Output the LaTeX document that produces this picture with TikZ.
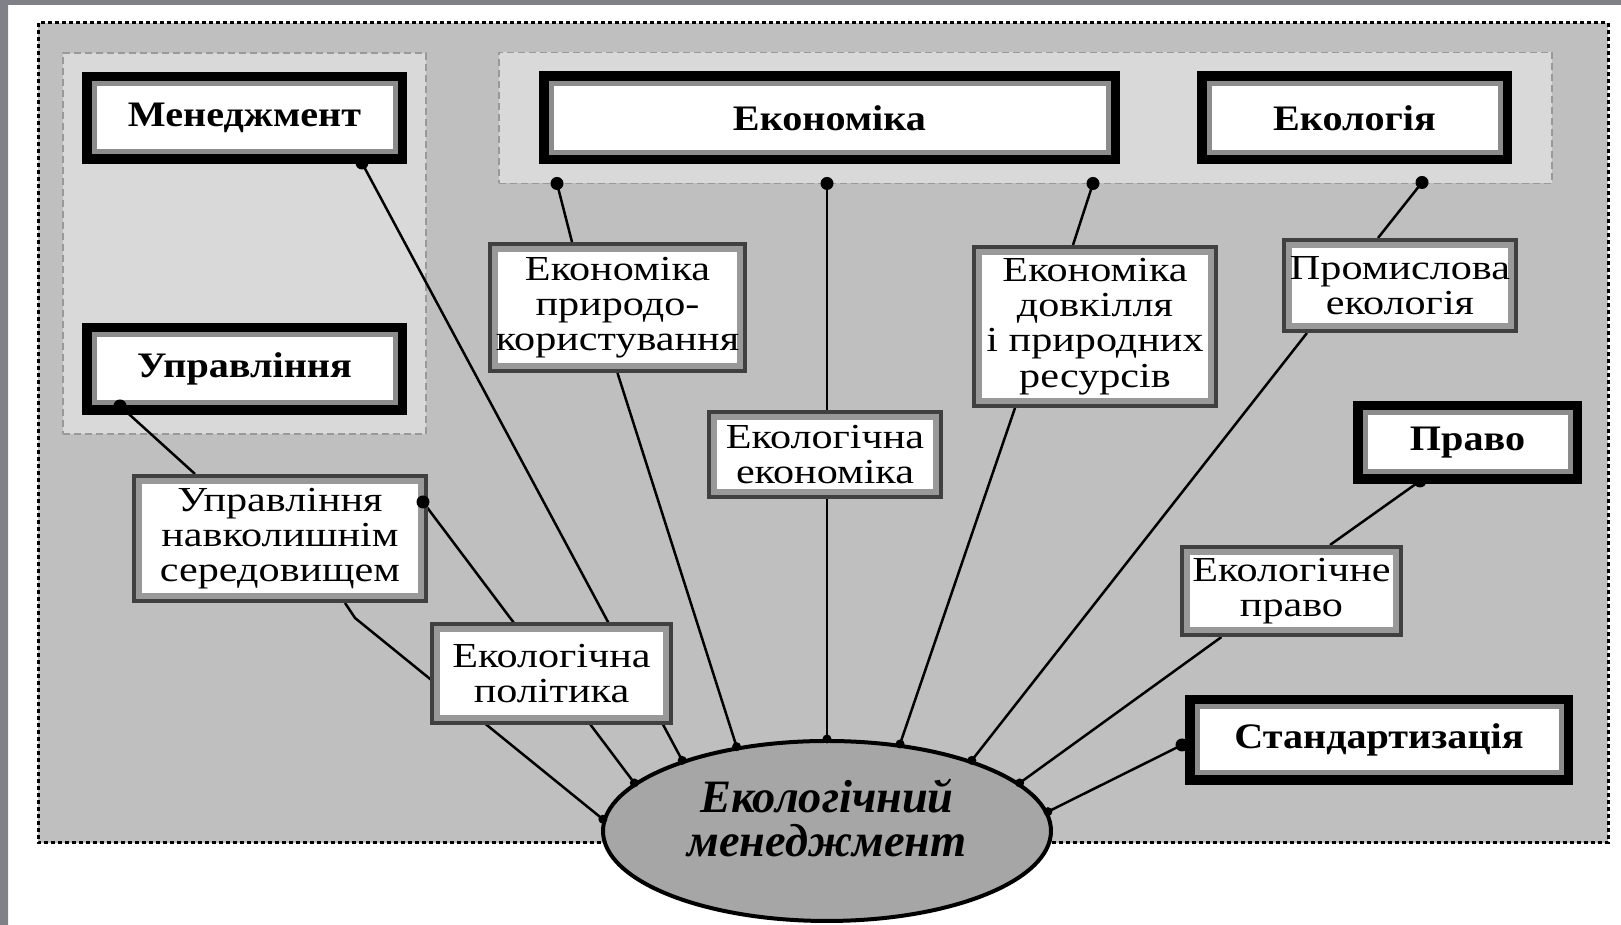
\documentclass[tikz,border=0pt]{standalone}
\usepackage{fontspec}
\setmainfont{Liberation Serif}
\newfontfamily\boxfont[FakeStretch=1.2]{Liberation Serif}
\newfontfamily\headfont[FakeStretch=1.12]{Liberation Serif}
\usepackage{tikz}
\usetikzlibrary{shapes.geometric,fit}
\pgfdeclarelayer{back}
\pgfdeclarelayer{lines}
\pgfsetlayers{back,lines,main}
\definecolor{edgegray}{RGB}{128,128,136}
\tikzset{
  mainbox/.style={preaction={draw=black,line width=0.24cm},draw=black!45,line width=0.05cm,fill=white,
    inner sep=0pt,outer sep=0.12cm,font=\headfont\bfseries\fontsize{10.2}{11}\selectfont},
  subbox/.style={preaction={draw=black!75,line width=0.14cm},draw=black!40,line width=0.06cm,fill=white,
    inner sep=0pt,outer sep=0.07cm,align=center,font=\boxfont\fontsize{10}{10}\selectfont},
  grp/.style={draw=black!40,fill=black!15,line width=0.015cm,dash pattern=on 0.07cm off 0.04cm},
  frame/.style={draw=black,fill=black!25,line width=0.03cm,dash pattern=on 0.04cm off 0.03cm},
  link/.style={line width=0.025cm},
  pin/.style={fill=black}
}
\begin{document}
\begin{tikzpicture}
        \useasboundingbox (0,0) rectangle (16.21,-9.25);
        \node[mainbox,minimum width=3.01cm,minimum height=0.68cm] (men) at (2.445,-1.18) {Менеджмент};
        \node[mainbox,minimum width=3.01cm,minimum height=0.68cm] (upr) at (2.445,-3.69) {Управління};
        \node[mainbox,minimum width=5.57cm,minimum height=0.69cm] (eko) at (8.295,-1.18) {Економіка};
        \node[mainbox,minimum width=2.91cm,minimum height=0.69cm] (ecl) at (13.545,-1.18) {Екологія};
        \node[mainbox,minimum width=2.05cm,minimum height=0.59cm] (prv) at (14.675,-4.425) {Право};
        \node[mainbox,minimum width=3.64cm,minimum height=0.66cm] (std) at (13.79,-7.40) {Стандартизація};
        \node[subbox,minimum width=2.45cm,minimum height=1.17cm] (epk) at (6.175,-3.075) {Економіка\\природо-\\користування};
        \node[subbox,minimum width=2.22cm,minimum height=0.75cm] (eke) at (8.25,-4.545) {Екологічна\\економіка};
        \node[subbox,minimum width=2.32cm,minimum height=1.49cm] (edr) at (10.95,-3.265) {Економіка\\довкілля\\і природних\\ресурсів};
        \node[subbox,minimum width=2.22cm,minimum height=0.81cm] (pre) at (14.00,-2.855) {Промислова\\екологія};
        \node[subbox,minimum width=2.09cm,minimum height=0.78cm] (epr) at (12.915,-5.91) {Екологічне\\право};
        \node[subbox,minimum width=2.82cm,minimum height=1.15cm] (unc) at (2.80,-5.385) {Управління\\навколишнім\\середовищем};
        \node[subbox,minimum width=2.29cm,minimum height=0.89cm] (epo) at (5.515,-6.735) {Екологічна\\політика};
        \node[ellipse,draw,line width=0.04cm,fill=black!35,minimum width=4.48cm,minimum height=1.80cm,inner sep=0pt,
          align=center,text depth=0.27cm,font=\bfseries\itshape\fontsize{13.2}{12.6}\selectfont] (ell) at (8.27,-8.31) {Екологічний\\менеджмент};
        \coordinate (pUpr) at ([xshift=-1.245cm,yshift=0.09cm]upr.south);
        \coordinate (pUnc) at ([xshift=-0.05cm,yshift=0.365cm]unc.east);
        \coordinate (pMen) at ([xshift=1.175cm,yshift=0.01cm]men.south);
        \coordinate (pEk1) at ([xshift=-2.725cm,yshift=-0.19cm]eko.south);
        \coordinate (pEk2) at ([xshift=-0.025cm,yshift=-0.19cm]eko.south);
        \coordinate (pEk3) at ([xshift=2.635cm,yshift=-0.19cm]eko.south);
        \coordinate (pEcl) at ([xshift=0.675cm,yshift=-0.18cm]ecl.south);
        \coordinate (pPrv) at ([xshift=-0.475cm,yshift=0.03cm]prv.south);
        \coordinate (pStd) at ([xshift=-0.03cm,yshift=-0.05cm]std.west);
        \begin{pgfonlayer}{back}
          \fill[white] (0,0) rectangle (16.21,-9.25);
          \fill[edgegray] (0,0) rectangle (16.21,-0.05) (0,0) rectangle (0.08,-9.25);
          \draw[frame] (0.38,-0.23) rectangle (16.08,-8.43);
          \node[grp,fit=(men)(upr),inner sep=0.19cm] (grpM) {};
          \node[grp,fit=(eko)(ecl),inner xsep=0.4cm,inner ysep=0.19cm] (grpE) {};
        \end{pgfonlayer}
        \begin{pgfonlayer}{lines}
          \draw[link] (pUpr) -- ([xshift=-0.85cm]unc.north);
          \draw[link] ([xshift=0.65cm]unc.south) -- ++(0.1,-0.15) -- (ell.177);
          \draw[link] (pUnc) -- (ell.166);
          \draw[link] (pMen) -- (ell.154);
          \draw[link] (pEk1) -- ([xshift=-0.455cm]epk.north);
          \draw[link] (epk.south) -- (ell.137);
          \draw[link] (pEk2) -- (ell.north);
          \draw[link] (pEk3) -- ([xshift=-0.22cm]edr.north);
          \draw[link] ([xshift=-0.80cm]edr.south) -- (ell.50);
          \draw[link] (pEcl) -- ([xshift=-0.22cm]pre.north);
          \draw[link] ([xshift=-0.93cm]pre.south) -- (ell.26);
          \draw[link] (pPrv) -- ([xshift=0.385cm]epr.north);
          \draw[link] ([xshift=-0.70cm]epr.south) -- (ell.14);
          \draw[link] (pStd) -- (ell.5);
        \end{pgfonlayer}
        \foreach \p in {pUpr,pUnc,pMen,pEk1,pEk2,pEk3,pEcl,pPrv,pStd} \fill[pin] (\p) circle (0.065cm);
        \foreach \a in {177,166,154,137,90,50,26,14,5} \fill[pin] (ell.\a) circle (0.045cm);
      \end{tikzpicture}
\end{document}
